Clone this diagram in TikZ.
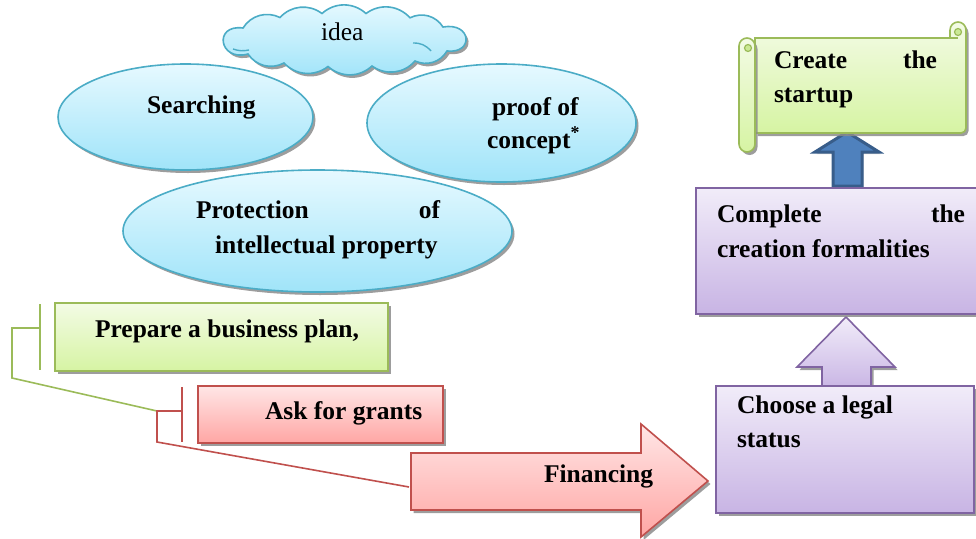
\documentclass[tikz,border=0pt]{standalone}
\usepackage{fontspec}
\setmainfont{Liberation Serif}
\usetikzlibrary{shapes.geometric,shadows}

\definecolor{skyline}{RGB}{75,172,198}
\definecolor{skytop}{RGB}{230,249,255}
\definecolor{skybot}{RGB}{160,228,249}
\definecolor{leafline}{RGB}{155,187,89}
\definecolor{leaftop}{RGB}{243,251,229}
\definecolor{leafbot}{RGB}{214,244,163}
\definecolor{roseline}{RGB}{192,80,77}
\definecolor{rosetop}{RGB}{255,230,230}
\definecolor{rosebot}{RGB}{255,166,164}
\definecolor{lilacline}{RGB}{128,100,162}
\definecolor{lilactop}{RGB}{241,236,249}
\definecolor{lilacbot}{RGB}{200,180,228}
\definecolor{navyline}{RGB}{56,93,138}
\definecolor{navyfill}{RGB}{79,129,189}

\newcommand\lblfont{\fontsize{25.5}{35}\selectfont\bfseries}

\tikzset{
  every node/.style={inner sep=0pt, outer sep=0pt},
  softshadow/.style={drop shadow={shadow xshift=2.5pt, shadow yshift=-3pt, fill=black!45, opacity=0.85}},
  skyshape/.style={ellipse, draw=skyline, line width=1.6pt, top color=skytop, bottom color=skybot, softshadow},
  skypath/.style={draw=skyline, line width=1.6pt, top color=skytop, bottom color=skybot, softshadow},
  leafshape/.style={draw=leafline, line width=1.6pt, top color=leaftop, bottom color=leafbot, softshadow},
  roseshape/.style={draw=roseline, line width=1.6pt, top color=rosetop, bottom color=rosebot, softshadow},
  lilacshape/.style={draw=lilacline, line width=1.6pt, top color=lilactop, bottom color=lilacbot, softshadow},
  label/.style={font=\lblfont, anchor=base west},
  leafbracket/.style={draw=leafline, line width=1.6pt},
  rosebracket/.style={draw=roseline, line width=1.6pt},
  puff/.style={bend left=42},
}

\begin{document}
\begin{tikzpicture}[x=1pt,y=-1pt]
\useasboundingbox (0,0) rectangle (976,538);
\clip (0,0) rectangle (976,538);

% ---- the three ovals
\node[skyshape, minimum width=255pt, minimum height=106pt] (search) at (185.5,117) {};
\node[skyshape, minimum width=269pt, minimum height=118pt] (proof) at (501.5,123) {};
\node[skyshape, minimum width=389pt, minimum height=122pt] (protect) at (317.5,231) {};

% ---- the idea cloud: broad puffs along the top and bottom, rounder lobes at the ends
\path[skypath] (248,54) .. controls (219,62) and (213,24) .. (243,28)
  to[puff] (280,17.5) to[puff] (322,13.5) to[puff] (366,13.5) to[puff] (410,17.8) to[puff] (443,27)
  .. controls (472,22) and (474,54) .. (447,51)
  to[puff] (415,61) to[puff] (372,66) to[puff] (328,66.5) to[puff] (284,63) to[puff] cycle;
\draw[skyline, line width=1.4pt] (233,49) to[bend right=15] (249,50);
\draw[skyline, line width=1.4pt] (413,43) to[bend left=25] (431,51);

% ---- callout brackets
\coordinate (gtop) at (40,304);
\coordinate (gbot) at (40,370);
\coordinate (gmid) at (40,328);
\coordinate (gcorner) at (12,328);
\coordinate (gfoot) at (12,378);
\coordinate (rtop) at (182,387);
\coordinate (rbot) at (182,442);
\coordinate (rmid) at (182,411);
\coordinate (rcorner) at (157,411);
\coordinate (rfoot) at (157,442);
\coordinate (ftail) at (409,487);
\draw[leafbracket] (gtop) -- (gbot);
\draw[leafbracket] (gmid) -- (gcorner) -- (gfoot) -- (rcorner);
\draw[rosebracket] (rtop) -- (rbot);
\draw[rosebracket] (rmid) -- (rcorner) -- (rfoot) -- (ftail);

% ---- left boxes
\node[leafshape, minimum width=333pt, minimum height=68pt] (plan) at (221.5,337) {};
\node[roseshape, minimum width=245pt, minimum height=57pt] (grants) at (320.5,414.5) {};

% ---- financing arrow
\path[roseshape] (411,453) -- (641,453) -- (641,424) -- (708,481) -- (641,537) -- (641,510) -- (411,510) -- cycle;

% ---- right column: up arrows, boxes, scroll
\path[lilacshape] (822,390) -- (822,367) -- (797,367) -- (846,317) -- (895,367) -- (871,367) -- (871,390) -- cycle;
\path[draw=navyline, line width=3pt, fill=navyfill, drop shadow={shadow xshift=1.5pt, shadow yshift=-2pt, fill=black!35}]
  (833,186) -- (833,152) -- (815,152) -- (847,132) -- (879,152) -- (862,152) -- (862,186) -- cycle;
\node[lilacshape, minimum width=294pt, minimum height=126pt] (formal) at (843,251) {};
\node[lilacshape, minimum width=258pt, minimum height=127pt] (status) at (845,449.5) {};

% scroll: body with the curled top-right corner, then the left roll
\path[leafshape] (755,38) -- (950,38) -- (950,30) arc[start angle=180, end angle=360, radius=8]
  -- (966,128) arc[start angle=0, end angle=90, radius=5] -- (755,133) -- cycle;
\path[leafshape] (755,46) -- (755,144) arc[start angle=0, end angle=180, radius=8]
  -- (739,46) arc[start angle=180, end angle=360, radius=8] -- cycle;
\path[draw=leafline, line width=1.2pt, fill=leafbot!80!leafline] (958,32) circle[radius=3.5];
\path[draw=leafline, line width=1.2pt, fill=leafbot!80!leafline] (748,48) circle[radius=3.5];
\draw[leafline, line width=1.2pt] (950,38) -- (958,38);

% ---- labels
\node[anchor=base west, font=\fontsize{25.5}{30}\selectfont] (ideatxt) at (321,40) {idea};
\node[label] (searchtxt) at (147,113) {Searching};
\node[label] (prooftxt) at (492,115) {proof of};
\node[label] (concepttxt) at (487,148) {concept\textsuperscript{*}};
\node[label] (protA) at (196,218) {\makebox[244pt][s]{Protection of}};
\node[label] (protB) at (215,253) {intellectual property};
\node[label] (plantxt) at (95,337) {Prepare a business plan,};
\node[label] (grantstxt) at (265,419) {Ask for grants};
\node[label] (fintxt) at (544,482) {Financing};
\node[label] (createA) at (774,68) {\makebox[163pt][s]{Create the}};
\node[label] (createB) at (774,102) {startup};
\node[label] (formalA) at (717,222) {\makebox[248pt][s]{Complete the}};
\node[label] (formalB) at (717,257) {creation formalities};
\node[label] (statusA) at (737,413) {Choose a legal};
\node[label] (statusB) at (737,447) {status};
\end{tikzpicture}
\end{document}
